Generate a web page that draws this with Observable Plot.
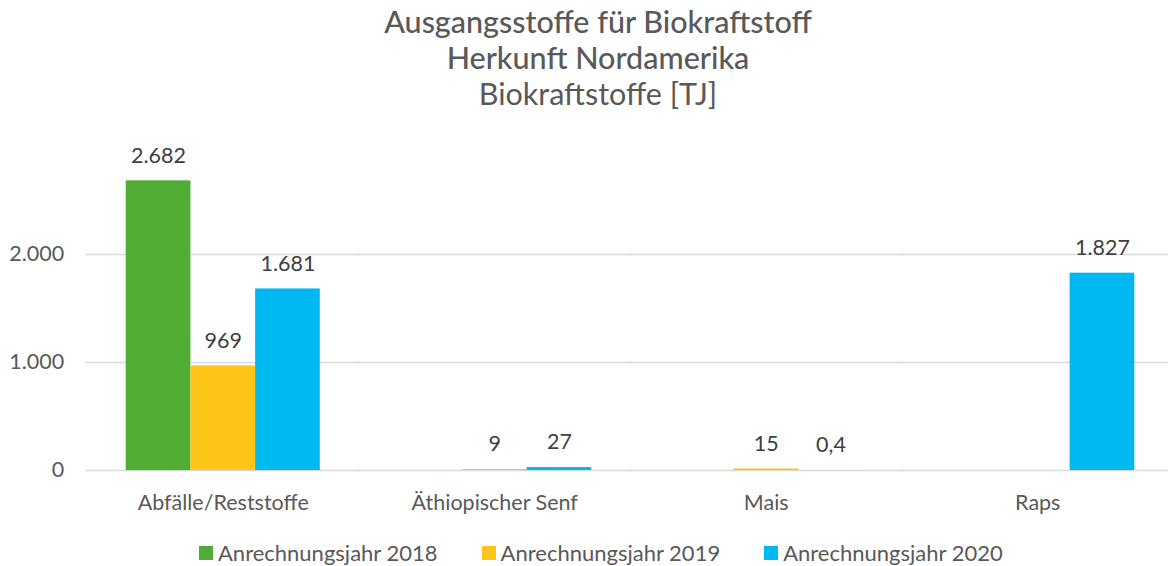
<!DOCTYPE html>
<html>
<head>
<meta charset="utf-8">
<script src="https://cdn.jsdelivr.net/npm/d3@7"></script>
<script src="https://cdn.jsdelivr.net/npm/@observablehq/plot@0.6"></script>
<style>
  html, body { margin: 0; padding: 0; background: #fff; overflow: hidden; width: 1168px; height: 566px; }
  body { font-family: Lato, "Open Sans", sans-serif; color: #595959; }
  #title { width: 1196px; height: 112px; padding-top: 3px; box-sizing: border-box; text-align: center; line-height: 36px; font-size: 30.5px; }
  #title .t1, #title .t2 { font-weight: 500; }
  #chart { height: 420px; width: 1173px; }
  #chart svg { display: block; max-width: none !important; width: 1173px !important; height: 420px !important; }
  #legend { display: flex; align-items: center; height: 42px; line-height: 42px; padding-left: 199px; font-size: 22px; }
  #legend .item { display: flex; align-items: center; margin-right: 44px; }
  #legend .sw { width: 14px; height: 14px; margin-right: 5px; }
</style>
</head>
<body>
<div id="title">
  <div class="t1">Ausgangsstoffe für Biokraftstoff</div>
  <div class="t2">Herkunft Nordamerika</div>
  <div class="t3">Biokraftstoffe [TJ]</div>
</div>
<div id="chart"></div>
<div id="legend"></div>
<script>
const categories = ["Abfälle/Reststoffe", "Äthiopischer Senf", "Mais", "Raps"];
const years = ["Anrechnungsjahr 2018", "Anrechnungsjahr 2019", "Anrechnungsjahr 2020"];
const values2018 = [2682, null, null, null];
const values2019 = [969, 9, 15, null];
const values2020 = [1681, 27, 0.4, 1827];
const colors = ["#4EAD32", "#FEC519", "#00B9F1"];
const yTicks = [0, 1000, 2000];

const series = [values2018, values2019, values2020];
const data = [];
categories.forEach((c, i) => {
  years.forEach((y, j) => {
    const v = series[j][i];
    if (v != null) data.push({category: c, year: y, value: v});
  });
});

const de = d3.formatLocale({decimal: ",", thousands: ".", grouping: [3], currency: ["", " €"]});
const fmtInt = de.format(",d");
const fmt = v => Number.isInteger(v) ? fmtInt(v) : de.format(",.1f")(v);

const chart = Plot.plot({
  width: 1173,
  height: 420,
  marginLeft: 87,
  marginRight: 0,
  marginTop: 34,
  marginBottom: 62,
  style: {fontFamily: "Lato, 'Open Sans', sans-serif", fontSize: "21.5px", color: "#595959", background: "white"},
  fx: {domain: categories, paddingInner: 0.285, paddingOuter: 0.1425, round: false, label: null, axis: "bottom", tickSize: 0, tickPadding: 24, fontSize: "22px"},
  x: {domain: years, padding: 0, round: false, axis: null},
  y: {domain: [0, 3000], range: [358, 34], ticks: yTicks, tickFormat: fmt, tickSize: 0, tickPadding: 62, label: null},
  color: {domain: years, range: colors},
  marks: [
    Plot.ruleY(yTicks, {stroke: "#d9d9d9", strokeWidth: 1.3, insetLeft: -40, insetRight: -40}),
    Plot.barY(data, {fx: "category", x: "year", y: "value", fill: "year"}),
    Plot.text(data, {fx: "category", x: "year", y: "value", text: d => fmt(d.value), dy: -25, fill: "#404040", fontSize: 21.5})
  ]
});
document.getElementById("chart").appendChild(chart);

const legend = document.getElementById("legend");
years.forEach((y, j) => {
  const item = document.createElement("div");
  item.className = "item";
  const sw = document.createElement("div");
  sw.className = "sw";
  sw.style.background = colors[j];
  const label = document.createElement("span");
  label.textContent = y;
  item.appendChild(sw);
  item.appendChild(label);
  legend.appendChild(item);
});
</script>
</body>
</html>
